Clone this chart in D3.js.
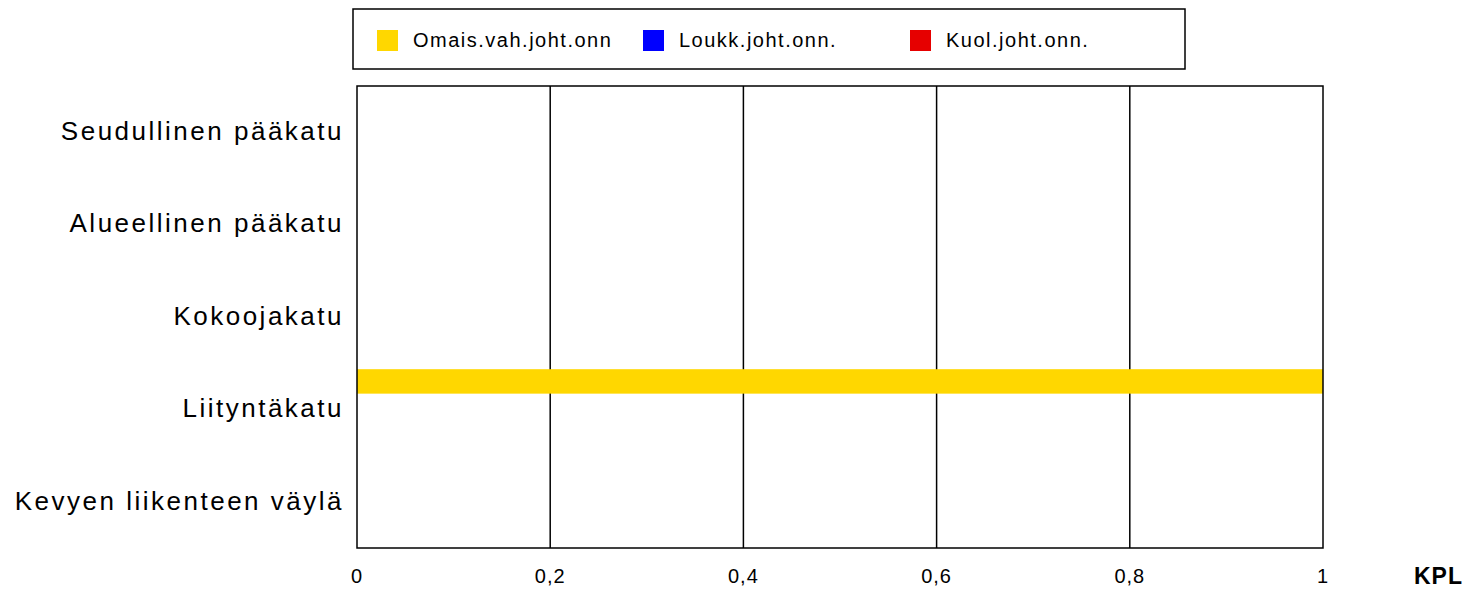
<!DOCTYPE html>
<html>
<head>
<meta charset="utf-8">
<script src="https://cdn.jsdelivr.net/npm/d3@7"></script>
<style>
body{margin:0;background:#fff;}
text{font-family:"Liberation Sans",Arial,sans-serif;fill:#000;}
</style>
</head>
<body>
<script>
var categories = ["Seudullinen pääkatu","Alueellinen pääkatu","Kokoojakatu","Liityntäkatu","Kevyen liikenteen väylä"];
var seriesNames = ["Omais.vah.joht.onn","Loukk.joht.onn.","Kuol.joht.onn."];
var seriesColors = ["#ffd700","#0000ff","#e60000"];
var omaisValues = [0,0,0,1,0];
var loukkValues = [0,0,0,0,0];
var kuolValues = [0,0,0,0,0];
var tickValues = [0,0.2,0.4,0.6,0.8,1];
var tickLabels = ["0","0,2","0,4","0,6","0,8","1"];

var allValues = [omaisValues,loukkValues,kuolValues];

var svg = d3.select("body").append("svg").attr("width",1468).attr("height",590);

var pLeft = 357, pRight = 1323, pTop = 86, pBottom = 548;

var x = d3.scaleLinear().domain([0,1]).range([pLeft,pRight]);
var y = d3.scaleBand().domain(categories).range([pTop,pBottom]);
var ySub = d3.scaleBand().domain(seriesNames).range([6,86]).paddingInner(0.12);

// grid lines
svg.selectAll("line.grid")
      .data(tickValues.slice(1,-1))
      .enter().append("line")
      .attr("class","grid")
      .attr("x1",function(d){return x(d);})
      .attr("x2",function(d){return x(d);})
      .attr("y1",pTop)
      .attr("y2",pBottom)
      .attr("stroke","#000")
      .attr("stroke-width",1.5);

// bars
seriesNames.forEach(function(s,si){
  svg.selectAll("rect.s"+si)
      .data(allValues[si])
      .enter().append("rect")
      .attr("class","s"+si)
      .attr("x",x(0))
      .attr("y",function(d,i){return y(categories[i])+ySub(s);})
      .attr("width",function(d){return x(d)-x(0);})
      .attr("height",ySub.bandwidth())
      .attr("fill",seriesColors[si]);
});

// frame
svg.append("rect")
      .attr("x",pLeft).attr("y",pTop)
      .attr("width",pRight-pLeft).attr("height",pBottom-pTop)
      .attr("fill","none").attr("stroke","#000").attr("stroke-width",1.5);

// category labels
svg.selectAll("text.cat")
      .data(categories)
      .enter().append("text")
      .attr("class","cat")
      .attr("x",344)
      .attr("y",function(d){return y(d)+y.bandwidth()/2+1;})
      .attr("text-anchor","end")
      .attr("dominant-baseline","middle")
      .attr("font-size",26)
      .attr("letter-spacing",2.5)
      .text(function(d){return d;});

// tick labels
svg.selectAll("text.tick")
      .data(tickValues)
      .enter().append("text")
      .attr("class","tick")
      .attr("x",function(d){return x(d);})
      .attr("y",578)
      .attr("text-anchor","middle")
      .attr("dominant-baseline","middle")
      .attr("font-size",20)
      .attr("letter-spacing",1)
      .text(function(d,i){return tickLabels[i];});

svg.append("text").text("KPL")
      .attr("x",1463).attr("y",578)
      .attr("text-anchor","end")
      .attr("dominant-baseline","middle")
      .attr("font-size",23)
      .attr("letter-spacing",1)
      .attr("font-weight","bold");

// legend
svg.append("rect")
      .attr("x",353).attr("y",9).attr("width",832).attr("height",60)
      .attr("fill","#fff").attr("stroke","#000").attr("stroke-width",1.5);

var legendX = [377,643,910];
var lg = svg.selectAll("g.legend")
      .data(seriesNames)
      .enter().append("g")
      .attr("class","legend")
      .attr("transform",function(d,i){return "translate("+legendX[i]+",30)";});
lg.append("rect")
      .attr("width",21).attr("height",21)
      .attr("fill",function(d,i){return seriesColors[i];});
lg.append("text")
      .attr("x",36).attr("y",12)
      .attr("dominant-baseline","middle")
      .attr("font-size",20)
      .attr("letter-spacing",1.5)
      .text(function(d){return d;});
</script>
</body>
</html>
